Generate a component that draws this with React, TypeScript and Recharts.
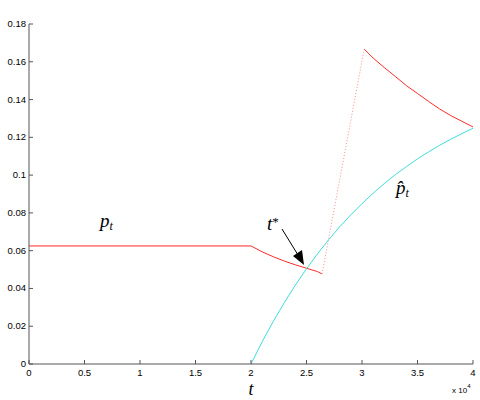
import { LineChart, Line, XAxis, YAxis } from "recharts";

const xTicks = [0, 5000, 10000, 15000, 20000, 25000, 30000, 35000, 40000];
const yTicks = [0, 0.02, 0.04, 0.06, 0.08, 0.1, 0.12, 0.14, 0.16, 0.18];

// p_t before the jump
const pT = [0, 20000, 21000, 22000, 23000, 24000, 25000, 26000, 26400];
const pVals = [0.0625, 0.0625, 0.0594, 0.0568, 0.0545, 0.0525, 0.0507, 0.0489, 0.0477];

// the jump (dotted)
const jumpT = [26400, 30200];
const jumpVals = [0.0477, 0.1667];

// p_t after the jump
const pAfterT = [30200, 31000, 32000, 33000, 34000, 35000, 36000, 37000, 38000, 39000, 40000];
const pAfterVals = [0.1667, 0.162, 0.157, 0.1522, 0.1474, 0.1432, 0.139, 0.135, 0.1315, 0.1285, 0.1255];

// p-hat_t
const pHatT = [
  20000, 21000, 22000, 23000, 24000, 25000, 26000, 27000, 28000, 29000, 30000,
  31000, 32000, 33000, 34000, 35000, 36000, 37000, 38000, 39000, 40000,
];
const pHatVals = [
  0, 0.0117, 0.0225, 0.0325, 0.0418, 0.0504, 0.0584, 0.0658, 0.0727, 0.079, 0.0849,
  0.0904, 0.0955, 0.1002, 0.1045, 0.1086, 0.1123, 0.1158, 0.119, 0.122, 0.1248,
];

const zip = (ts: number[], vs: number[]) => ts.map((t, i) => ({ t, v: vs[i] }));

const AXIS = "#555";
const RED = "#ff2a2a";
const CYAN = "#3fdcdc";
const SANS = "'Liberation Sans', Arial, sans-serif";
const SERIF = "'Liberation Serif', 'Times New Roman', serif";

function BottomTick({ x, y, payload }: any) {
  return (
    <g>
      <line x1={x} x2={x} y1={y} y2={y - 4} stroke={AXIS} />
      <text x={x} y={y + 12} textAnchor="middle" fontSize={9.5} fontFamily={SANS} fill="#000">
        {payload.value / 10000}
      </text>
    </g>
  );
}

function TopTick({ x, y }: any) {
  return <line x1={x} x2={x} y1={y} y2={y + 4} stroke={AXIS} />;
}

function LeftTick({ x, y, payload }: any) {
  return (
    <g>
      <line x1={x} x2={x + 4} y1={y} y2={y} stroke={AXIS} />
      <text x={x - 3} y={y + 3} textAnchor="end" fontSize={9.5} fontFamily={SANS} fill="#000">
        {String(+Number(payload.value).toFixed(2))}
      </text>
    </g>
  );
}

function RightTick({ x, y }: any) {
  return <line x1={x} x2={x - 4} y1={y} y2={y} stroke={AXIS} />;
}

export default function App() {
  return (
    <div style={{ position: "absolute", left: 0, top: 0, width: 480, height: 400, background: "#fff" }}>
      <LineChart width={480} height={400} margin={{ top: 24, right: 7, bottom: 0, left: 0 }}>
        <XAxis
          xAxisId="b"
          type="number"
          dataKey="t"
          domain={[0, 40000]}
          ticks={xTicks}
          interval={0}
          height={36}
          tickSize={0}
          tickMargin={0}
          tickLine={false}
          axisLine={{ stroke: AXIS }}
          tick={<BottomTick />}
          allowDataOverflow
        />
        <XAxis
          xAxisId="t"
          orientation="top"
          type="number"
          dataKey="t"
          domain={[0, 40000]}
          ticks={xTicks}
          interval={0}
          height={0}
          tickSize={0}
          tickMargin={0}
          tickLine={false}
          axisLine={{ stroke: "#222" }}
          tick={<TopTick />}
          allowDataOverflow
        />
        <YAxis
          yAxisId="l"
          type="number"
          domain={[0, 0.18]}
          ticks={yTicks}
          interval={0}
          width={29}
          tickSize={0}
          tickMargin={0}
          tickLine={false}
          axisLine={{ stroke: AXIS }}
          tick={<LeftTick />}
          allowDataOverflow
        />
        <YAxis
          yAxisId="r"
          orientation="right"
          type="number"
          domain={[0, 0.18]}
          ticks={yTicks}
          interval={0}
          width={0}
          tickSize={0}
          tickMargin={0}
          tickLine={false}
          axisLine={{ stroke: AXIS }}
          tick={<RightTick />}
          allowDataOverflow
        />
        <Line
          xAxisId="b" yAxisId="l" data={zip(pT, pVals)} dataKey="v" type="linear"
          stroke={RED} strokeWidth={1} dot={false} isAnimationActive={false}
        />
        <Line
          xAxisId="b" yAxisId="l" data={zip(jumpT, jumpVals)} dataKey="v" type="linear"
          stroke="#ff8a8a" strokeWidth={1} strokeDasharray="1 2" dot={false} isAnimationActive={false}
        />
        <Line
          xAxisId="b" yAxisId="l" data={zip(pAfterT, pAfterVals)} dataKey="v" type="linear"
          stroke={RED} strokeWidth={1} dot={false} isAnimationActive={false}
        />
        <Line
          xAxisId="b" yAxisId="l" data={zip(pHatT, pHatVals)} dataKey="v" type="linear"
          stroke={CYAN} strokeWidth={1} dot={false} isAnimationActive={false}
        />
      </LineChart>
      <svg
        width={480}
        height={400}
        style={{ position: "absolute", left: 0, top: 0, pointerEvents: "none" }}
      >
        <text x={251} y={395} textAnchor="middle" fontSize={18} fontStyle="italic" fontFamily={SERIF}>
          t
        </text>
        <text x={452} y={393} fontSize={8} fontFamily={SANS}>
          x 10
          <tspan dy={-5} fontSize={6}>4</tspan>
        </text>
        <text x={100} y={227} fontSize={19} fontStyle="italic" fontFamily={SERIF}>
          p<tspan dy={3} fontSize={12}>t</tspan>
        </text>
        <text x={267} y={230} fontSize={19} fontStyle="italic" fontFamily={SERIF}>
          t<tspan dy={-4} fontSize={13} fontStyle="normal">*</tspan>
        </text>
        <text x={396} y={194} fontSize={19} fontStyle="italic" fontFamily={SERIF}>
          p̂<tspan dy={3} fontSize={12}>t</tspan>
        </text>
        <line x1={282} y1={229} x2={298} y2={255} stroke="#000" strokeWidth={1} />
        <polygon points="304,265 293,256 302,250" fill="#000" />
      </svg>
    </div>
  );
}
